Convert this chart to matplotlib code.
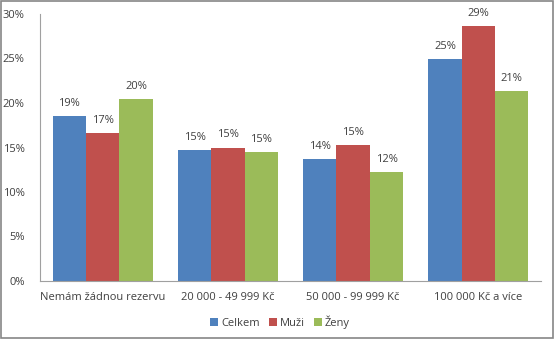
import matplotlib
matplotlib.use("Agg")
import matplotlib.pyplot as plt
import numpy as np
from matplotlib.patches import Rectangle
from matplotlib.ticker import FuncFormatter

CATEGORIES = ["Nemám žádnou rezervu", "20 000 - 49 999 Kč", "50 000 - 99 999 Kč", "100 000 Kč a více"]
SERIES = ["Celkem", "Muži", "Ženy"]
CELKEM = [18.5, 14.7, 13.7, 24.9]
MUZI = [16.6, 15.0, 15.3, 28.6]
ZENY = [20.4, 14.5, 12.2, 21.3]
LABELS_CELKEM = ["19%", "15%", "14%", "25%"]
LABELS_MUZI = ["17%", "15%", "15%", "29%"]
LABELS_ZENY = ["20%", "15%", "12%", "21%"]

COLORS = ["#4F81BD", "#C0504D", "#9BBB59"]

plt.rcParams["font.family"] = ["Open Sans", "DejaVu Sans"]
FS = 8

fig = plt.figure(figsize=(5.55, 3.39), dpi=100)
ax = fig.add_axes([40 / 555, 1 - 281 / 339, 501 / 555, 267 / 339])

x = np.arange(len(CATEGORIES))
w = 0.8 / 3
for i, (vals, labels) in enumerate([(CELKEM, LABELS_CELKEM), (MUZI, LABELS_MUZI), (ZENY, LABELS_ZENY)]):
    bars = ax.bar(x + (i - 1) * w, vals, w, color=COLORS[i], label=SERIES[i], zorder=2)
    for b, lab in zip(bars, labels):
        ax.text(b.get_x() + b.get_width() / 2, b.get_height() + 0.8, lab,
                ha="center", va="bottom", fontsize=FS, color="#404040")

ax.set_xlim(-0.5, 3.5)
ax.set_ylim(0, 30)
ax.set_yticks(range(0, 31, 5))
ax.yaxis.set_major_formatter(FuncFormatter(lambda v, p: f"{v:.0f}%"))
ax.set_xticks(x)
ax.set_xticklabels(CATEGORIES)
ax.tick_params(axis="both", labelsize=FS, colors="#404040", length=0, pad=8)
ax.tick_params(axis="y", pad=11)
for s in ["top", "right"]:
    ax.spines[s].set_visible(False)
for s in ["left", "bottom"]:
    ax.spines[s].set_color("#A0A0A0")
    ax.spines[s].set_linewidth(0.8)

leg = fig.legend(loc="center", bbox_to_anchor=(280 / 555, 1 - 322 / 339), ncol=3, frameon=False,
                 fontsize=FS, handlelength=0.7, handleheight=0.7, handletextpad=0.3, columnspacing=0.8)
for t in leg.get_texts():
    t.set_color("#404040")

fig.patches.append(Rectangle((0.002, 0.003), 0.995, 0.994, transform=fig.transFigure,
                             fill=False, edgecolor="#868686", linewidth=1.2))

fig.savefig("out.png", dpi=100)
